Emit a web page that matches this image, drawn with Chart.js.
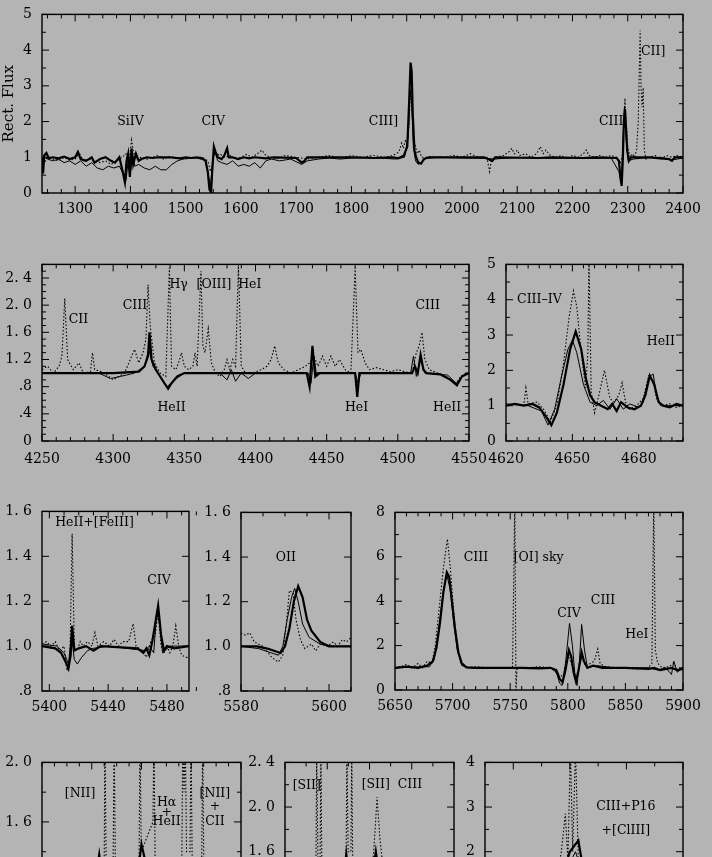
<!DOCTYPE html>
<html lang="en">
<head>
<meta charset="UTF-8">
<title>Rectified spectra</title>
<script src="https://cdn.jsdelivr.net/npm/chart.js"></script>
<style>
  html, body { margin: 0; padding: 0; background: #b4b4b4; }
  body { width: 712px; height: 857px; position: relative; overflow: hidden; }
  canvas { position: absolute; }
</style>
</head>
<body>
<canvas id="uv"></canvas>
<canvas id="blue"></canvas>
<canvas id="ciii"></canvas>
<canvas id="heii"></canvas>
<canvas id="oii"></canvas>
<canvas id="civ"></canvas>
<canvas id="halpha"></canvas>
<canvas id="sii"></canvas>
<canvas id="p16"></canvas>
<script>
// ---- UV 1240-2400 ----
const uvXTicks = [1300, 1400, 1500, 1600, 1700, 1800, 1900, 2000, 2100, 2200, 2300, 2400];
const uvYTicks = [0, 1, 2, 3, 4, 5];
const uvThick = [[1240,1.0],[1242,0.55],[1244,1.05],[1248,1.12],[1252,0.98],[1260,1.0],[1270,0.97],[1280,1.02],[1290,0.95],[1300,1.0],[1305,1.15],[1310,0.95],[1320,0.9],[1330,1.0],[1335,0.85],[1345,0.95],[1355,1.0],[1365,0.9],[1372,0.85],[1380,1.0],[1386,0.6],[1390,0.3],[1393,0.9],[1396,1.1],[1399,0.45],[1402,1.25],[1405,0.8],[1410,1.1],[1415,0.9],[1420,0.95],[1430,1.0],[1440,0.98],[1450,1.0],[1470,1.0],[1490,0.97],[1500,1.0],[1510,0.98],[1520,1.0],[1530,0.97],[1536,0.9],[1540,0.6],[1543,0.1],[1546,0.02],[1548,0.6],[1551,1.3],[1554,1.15],[1558,1.0],[1565,0.95],[1570,1.05],[1575,1.25],[1578,1.0],[1585,1.0],[1595,0.95],[1605,1.0],[1615,0.97],[1625,1.0],[1645,0.97],[1660,1.0],[1700,0.98],[1710,0.85],[1715,0.9],[1720,1.0],[1760,1.0],[1800,1.0],[1840,0.98],[1875,1.0],[1885,0.97],[1895,1.05],[1901,1.3],[1904,2.4],[1907,3.65],[1909,3.4],[1911,2.2],[1914,1.2],[1917,1.0],[1921,0.85],[1926,0.82],[1931,0.95],[1940,1.0],[2000,1.0],[2040,1.0],[2055,0.9],[2060,1.0],[2140,0.98],[2160,1.0],[2220,0.98],[2240,1.0],[2280,0.98],[2284,0.9],[2287,0.4],[2289,0.2],[2291,0.9],[2293,2.0],[2295,2.35],[2297,1.8],[2299,1.2],[2302,0.9],[2306,1.0],[2340,1.0],[2375,0.95],[2380,0.9],[2385,1.0],[2400,1.0]];
const uvThin = [[1240,0.9],[1244,1.0],[1250,0.95],[1260,0.9],[1270,0.95],[1280,0.85],[1290,0.9],[1300,0.8],[1310,0.9],[1320,0.75],[1330,0.85],[1340,0.7],[1350,0.65],[1360,0.75],[1370,0.7],[1380,0.75],[1388,0.5],[1392,0.35],[1396,0.9],[1400,0.55],[1404,1.1],[1408,0.75],[1415,0.8],[1425,0.7],[1435,0.65],[1445,0.75],[1455,0.65],[1465,0.65],[1475,0.8],[1485,0.9],[1495,0.95],[1505,0.97],[1520,0.98],[1535,0.92],[1541,0.5],[1545,0.2],[1549,0.9],[1553,1.15],[1558,0.9],[1565,0.85],[1575,0.8],[1585,0.9],[1595,0.75],[1605,0.8],[1615,0.75],[1625,0.85],[1635,0.7],[1645,0.9],[1655,0.95],[1670,0.9],[1690,0.95],[1710,0.8],[1720,0.9],[1740,0.95],[1760,0.98],[1780,0.95],[1800,0.98],[1830,1.0],[1860,0.97],[1880,0.95],[1896,1.0],[1903,1.6],[1906,2.9],[1909,2.5],[1912,1.3],[1916,0.9],[1921,0.8],[1926,0.85],[1935,0.97],[1960,1.0],[2000,0.98],[2040,0.97],[2060,0.95],[2080,0.98],[2120,1.0],[2160,0.97],[2200,0.98],[2240,0.97],[2270,0.98],[2284,0.6],[2288,0.3],[2291,1.2],[2294,2.4],[2297,1.5],[2301,0.9],[2310,0.95],[2330,0.98],[2360,1.0],[2378,0.92],[2400,0.98]];
const uvDot = [[1240,1.0],[1245,0.85],[1250,1.0],[1260,0.95],[1270,0.9],[1280,1.0],[1290,0.92],[1300,0.95],[1308,1.1],[1315,0.9],[1325,0.95],[1335,0.9],[1345,0.85],[1355,0.9],[1365,0.8],[1375,0.9],[1385,1.0],[1392,1.1],[1397,0.7],[1402,1.48],[1405,1.2],[1410,0.95],[1420,1.0],[1430,0.95],[1440,1.0],[1450,1.05],[1460,0.95],[1470,1.02],[1480,1.0],[1490,0.98],[1500,0.95],[1510,1.0],[1520,0.98],[1530,1.0],[1540,0.9],[1545,0.6],[1548,0.8],[1552,1.2],[1556,1.05],[1562,1.1],[1570,1.0],[1580,1.05],[1590,0.95],[1600,1.0],[1610,1.08],[1620,1.0],[1630,1.1],[1638,1.2],[1645,1.05],[1655,1.0],[1665,0.95],[1680,1.05],[1700,1.0],[1720,0.95],[1740,1.0],[1760,1.05],[1780,0.98],[1800,1.05],[1820,1.0],[1840,1.05],[1860,1.0],[1875,1.05],[1886,1.15],[1891,1.4],[1894,1.25],[1898,1.5],[1901,1.3],[1904,1.9],[1907,2.85],[1909,2.6],[1912,1.5],[1916,1.3],[1919,1.1],[1923,1.2],[1927,1.0],[1935,1.0],[1950,1.02],[1970,1.0],[1985,1.05],[2000,1.0],[2015,1.1],[2030,1.0],[2045,1.0],[2050,0.6],[2053,0.9],[2060,1.0],[2075,1.05],[2085,1.15],[2090,1.25],[2095,1.1],[2100,1.2],[2105,1.05],[2115,1.1],[2125,1.0],[2135,1.1],[2142,1.3],[2147,1.1],[2152,1.2],[2160,1.05],[2170,1.0],[2180,1.05],[2190,0.95],[2200,1.05],[2210,1.0],[2220,1.1],[2225,1.2],[2230,1.05],[2240,1.0],[2250,1.05],[2260,1.0],[2270,1.05],[2280,1.0],[2286,0.8],[2290,1.0],[2293,2.0],[2295,2.65],[2297,2.0],[2300,1.3],[2304,1.0],[2308,1.1],[2312,1.0],[2316,1.2],[2319,2.0],[2321,3.5],[2322.5,4.55],[2324,3.0],[2326,2.4],[2328,2.95],[2330,1.2],[2333,0.95],[2338,1.0],[2350,1.05],[2360,0.95],[2370,1.05],[2380,1.0],[2390,1.05],[2400,1.0]];

// ---- 4250-4550 ----
const blueXTicks = [4250, 4300, 4350, 4400, 4450, 4500, 4550];
const blueYTicks = [0, 0.4, 0.8, 1.2, 1.6, 2.0, 2.4];
const blueYLabels = ['0', '.4', '.8', '1. 2', '1. 6', '2. 0', '2. 4'];
const blueThick = [[4250,1.0],[4300,1.0],[4318,1.02],[4322,1.1],[4324.5,1.25],[4325.5,1.6],[4327,1.2],[4330,1.05],[4333,0.95],[4336,0.85],[4338.6,0.77],[4341,0.85],[4345,0.95],[4350,1.0],[4436,1.0],[4438,0.8],[4440,1.4],[4442,0.95],[4444,1.0],[4470,1.0],[4471.5,0.65],[4473,1.0],[4510,1.0],[4512,1.1],[4514,1.0],[4516,1.27],[4518,1.05],[4520,1.0],[4530,0.98],[4537,0.9],[4541.5,0.82],[4545,0.95],[4550,1.0]];
const blueThin = [[4250,1.0],[4290,1.0],[4298,0.92],[4305,0.95],[4315,1.0],[4322,1.1],[4325,1.35],[4328,1.1],[4333,0.95],[4338,0.8],[4343,0.9],[4350,1.0],[4375,1.0],[4380,0.9],[4383,1.05],[4386,0.88],[4390,1.0],[4395,0.92],[4400,1.0],[4437,1.0],[4439,0.85],[4441,1.25],[4443,0.95],[4446,1.0],[4470,1.0],[4472,0.85],[4474,1.0],[4509,1.0],[4511,1.25],[4513,0.95],[4516,1.2],[4519,1.0],[4535,0.97],[4541,0.85],[4546,0.97],[4550,1.0]];
const blueDot = [[4250,1.05],[4254,1.1],[4258,1.0],[4262,1.1],[4264,1.25],[4266,2.1],[4268,1.2],[4272,1.05],[4276,1.15],[4279,1.0],[4284,1.02],[4285.5,1.3],[4287,1.05],[4292,1.02],[4297,0.95],[4300,0.9],[4304,0.95],[4308,1.0],[4312,1.2],[4315,1.35],[4318,1.15],[4321,1.3],[4323,1.5],[4324.5,2.3],[4326,1.7],[4329,1.15],[4333,1.0],[4337,0.95],[4339.5,2.55],[4341,1.1],[4344,1.05],[4346,1.15],[4348,1.3],[4350,1.1],[4353,1.05],[4356,1.1],[4357.5,1.3],[4359,1.1],[4361.7,2.5],[4363,1.4],[4364.5,1.3],[4366.8,1.65],[4369,1.15],[4372,1.0],[4375,0.95],[4378,1.05],[4380,1.2],[4382,1.05],[4384,1.2],[4386,1.1],[4388,2.6],[4390,1.1],[4393,1.0],[4398,1.0],[4404,1.05],[4408,1.1],[4411,1.2],[4413.5,1.4],[4416,1.15],[4420,1.05],[4425,1.0],[4430,1.05],[4435,1.1],[4438,1.15],[4441,1.25],[4444,1.1],[4447,1.25],[4450,1.1],[4453,1.25],[4456,1.1],[4459,1.2],[4463,1.05],[4467,1.0],[4470,2.55],[4472,1.3],[4474,1.35],[4477,1.15],[4480,1.05],[4485,1.08],[4490,1.05],[4495,1.02],[4500,1.05],[4505,1.02],[4510,1.0],[4513,1.3],[4515,1.4],[4517,1.6],[4519,1.2],[4522,1.05],[4528,1.0],[4534,0.95],[4538,0.9],[4541,0.85],[4544,0.95],[4548,1.0],[4550,1.0]];

// ---- 4620-4700 ----
const ciiiXTicks = [4620, 4650, 4680];
const ciiiYTicks = [0, 1, 2, 3, 4, 5];
const ciiiThick = [[4620,1.0],[4624,1.05],[4628,1.0],[4632,1.05],[4635,0.95],[4638,0.7],[4640.5,0.45],[4643,0.8],[4646,1.6],[4649,2.6],[4651.5,3.1],[4654,2.6],[4656,1.8],[4658,1.3],[4660,1.1],[4663,1.0],[4666,0.9],[4668,1.05],[4670,0.85],[4672,1.1],[4675,0.95],[4678,0.9],[4681,1.0],[4683,1.3],[4685,1.85],[4687,1.6],[4689,1.1],[4691,1.0],[4694,0.95],[4697,1.05],[4700,1.0]];
const ciiiThin = [[4620,1.05],[4630,1.0],[4636,0.85],[4639,0.45],[4642,0.9],[4645,1.8],[4648,2.6],[4650,2.85],[4652,2.5],[4655,1.6],[4658,1.1],[4661,1.0],[4664,1.15],[4667,0.9],[4670,1.2],[4673,0.9],[4676,1.05],[4680,0.95],[4682,1.1],[4684.5,1.8],[4686.5,1.9],[4688,1.3],[4690,1.0],[4700,1.0]];
const ciiiDot = [[4620,1.0],[4625,1.05],[4628,1.0],[4629,1.5],[4630,1.05],[4634,1.1],[4637,0.9],[4640,0.55],[4643,1.0],[4646,2.2],[4648.5,3.5],[4650.5,4.25],[4652,3.8],[4654,2.5],[4656,1.5],[4657,2.5],[4657.5,5.2],[4658.5,1.4],[4660,0.8],[4662,1.3],[4664.5,2.0],[4667,1.2],[4669,1.1],[4671,1.3],[4672.5,1.65],[4674,1.1],[4676,0.9],[4679,1.0],[4682,1.2],[4684.5,1.85],[4686.5,1.7],[4688,1.2],[4690,1.0],[4694,1.05],[4697,0.95],[4700,1.0]];

// ---- 5395-5495 ----
const heiiXTicks = [5400, 5440, 5480];
const narrowYTicks = [0.8, 1.0, 1.2, 1.4, 1.6];
const narrowYLabels = ['.8', '1. 0', '1. 2', '1. 4', '1. 6'];
const heiiThick = [[5395,1.0],[5404,0.99],[5408,0.97],[5411,0.93],[5413,0.9],[5414.5,0.96],[5415.5,1.09],[5417,0.98],[5420,0.99],[5425,1.0],[5430,0.98],[5435,1.0],[5460,0.99],[5464,0.97],[5466,0.99],[5468,0.96],[5470,1.02],[5472,1.1],[5474,1.18],[5476,1.05],[5478,0.98],[5480,1.0],[5485,0.99],[5495,1.0]];
const heiiThin = [[5395,1.01],[5405,1.0],[5410,0.97],[5413,0.92],[5415,1.05],[5417,0.94],[5419,0.92],[5422,0.95],[5426,0.98],[5430,0.99],[5440,1.0],[5465,0.98],[5468,1.0],[5471,0.97],[5473,1.15],[5475,1.1],[5477,0.97],[5482,1.0],[5495,1.0]];
const heiiDot = [[5395,1.01],[5398,1.02],[5401,1.0],[5404,1.02],[5407,0.98],[5410,1.0],[5412,0.89],[5414,0.95],[5415.5,1.5],[5417,1.0],[5419,0.98],[5421,1.02],[5423,1.0],[5426,1.02],[5429,1.0],[5431,1.06],[5433,1.0],[5437,1.02],[5441,1.0],[5444,1.03],[5447,1.0],[5450,1.02],[5454,1.02],[5457,1.1],[5459,1.0],[5463,0.98],[5466,0.95],[5469,1.02],[5472,1.05],[5474,1.15],[5476,1.0],[5478,0.97],[5480,1.0],[5482,0.97],[5484,1.0],[5486,1.09],[5488,1.0],[5490,0.96],[5493,0.95],[5495,0.95]];

// ---- 5580-5605 ----
const oiiXTicks = [5580, 5600];
const oiiThick = [[5580,1.0],[5583.6,1.0],[5586,0.99],[5589,0.97],[5590,1.0],[5591,1.08],[5592,1.2],[5593,1.27],[5594,1.22],[5595,1.12],[5596,1.07],[5598,1.02],[5600,1.0],[5605,1.0]];
const oiiThin = [[5580,1.0],[5584,0.99],[5588.5,0.96],[5589.5,1.0],[5590.5,1.12],[5591.5,1.22],[5592.2,1.26],[5593,1.2],[5594,1.1],[5595.5,1.04],[5598,1.01],[5601,1.0],[5605,1.0]];
const oiiDot = [[5580,1.06],[5581,1.05],[5582,1.06],[5583,1.02],[5585,1.0],[5587,0.95],[5588.5,0.93],[5589.5,0.96],[5590.3,1.1],[5591,1.25],[5591.8,1.24],[5592.5,1.12],[5593.5,1.03],[5594.5,0.99],[5596,1.01],[5597,0.98],[5598,1.01],[5599.5,1.0],[5601,1.02],[5602,1.0],[5603,1.03],[5604,1.02],[5605,1.04]];

// ---- 5650-5900 ----
const civXTicks = [5650, 5700, 5750, 5800, 5850, 5900];
const civYTicks = [0, 2, 4, 6, 8];
const civThick = [[5650,1.0],[5660,1.05],[5670,1.0],[5678,1.1],[5683,1.3],[5686,1.9],[5689,3.0],[5692,4.4],[5695,5.3],[5697,5.1],[5699,4.2],[5702,2.8],[5705,1.7],[5708,1.2],[5712,1.02],[5720,1.0],[5760,1.0],[5775,0.97],[5785,1.0],[5790,0.9],[5793,0.5],[5795.5,0.35],[5798,0.9],[5801,1.8],[5803,1.5],[5805,0.8],[5807,0.4],[5809,0.8],[5812,1.7],[5814,1.3],[5817,1.0],[5822,1.1],[5830,1.0],[5850,1.0],[5870,0.95],[5875,1.0],[5880,0.9],[5890,1.0],[5895,0.9],[5900,0.95]];
const civThin = [[5650,1.0],[5680,1.05],[5684,1.4],[5688,2.8],[5692,4.5],[5695,5.2],[5698,4.5],[5701,3.0],[5704,1.8],[5708,1.1],[5715,1.0],[5785,1.0],[5790,0.8],[5793,0.3],[5795,0.2],[5798,1.2],[5801.5,3.0],[5804,2.0],[5806,0.8],[5808,0.2],[5810,1.2],[5812,2.95],[5814.5,1.8],[5817,1.0],[5825,1.1],[5840,1.0],[5870,1.0],[5878,0.9],[5885,1.0],[5890,0.7],[5892,1.3],[5895,0.8],[5900,1.0]];
const civDot = [[5650,1.0],[5655,1.05],[5660,1.15],[5665,1.0],[5670,1.2],[5674,1.0],[5678,1.3],[5682,1.2],[5685,2.0],[5688,3.5],[5692,5.5],[5695.5,6.8],[5698,5.5],[5701,3.5],[5704,2.0],[5707,1.2],[5712,1.0],[5720,1.05],[5730,1.0],[5752,1.0],[5754,8.5],[5755,0.0],[5756,1.0],[5765,1.0],[5775,1.05],[5785,1.0],[5792,0.7],[5796,0.6],[5800,1.6],[5803,1.2],[5806,0.7],[5809,0.8],[5812,1.5],[5815,1.1],[5820,1.2],[5823,1.3],[5826,1.85],[5828,1.2],[5832,1.05],[5845,1.0],[5860,0.95],[5870,1.0],[5873,1.2],[5874.6,8.5],[5876,1.8],[5878,1.2],[5882,1.0],[5888,1.05],[5892,1.2],[5895,0.9],[5900,1.0]];

// ---- 6520-6600 ----
const haXTicks = [6540, 6560, 6580, 6600];
const haYTicks = [1.2, 1.6, 2.0];
const haYLabels = ['1. 2', '1. 6', '2. 0'];
const haThick = [[6520,1.0],[6535,1.0],[6540,1.05],[6543,1.38],[6545,1.1],[6550,1.0],[6555,1.05],[6558,1.2],[6560,1.45],[6562,1.3],[6565,1.2],[6570,1.05],[6578,1.1],[6583,1.15],[6588,1.0],[6600,1.0]];
const haThin = [[6520,1.0],[6540,1.0],[6543,1.25],[6546,1.0],[6558,1.1],[6560,1.35],[6563,1.15],[6570,1.05],[6580,1.1],[6590,1.0],[6600,1.0]];
const haDot = [[6520,1.0],[6530,1.05],[6540,1.1],[6545,1.3],[6545.3,2.2],[6545.8,1.3],[6548.6,1.35],[6549,2.2],[6549.5,1.3],[6555,1.1],[6559,1.3],[6559.4,2.2],[6559.9,1.4],[6564.6,1.6],[6565,2.2],[6565.5,1.3],[6570,1.2],[6576.2,1.3],[6576.6,2.2],[6577.1,1.8],[6577.6,2.2],[6578.1,1.4],[6579.5,1.4],[6579.9,2.2],[6580.4,1.3],[6584.2,1.3],[6584.6,2.2],[6585.1,1.2],[6592,1.05],[6600,1.0]];

// ---- 6700-6780 ----
const siiXTicks = [6700, 6720, 6740, 6760, 6780];
const siiYTicks = [1.2, 1.6, 2.0, 2.4];
const siiYLabels = ['1. 2', '1. 6', '2. 0', '2. 4'];
const siiThick = [[6700,1.0],[6714,1.05],[6717,1.3],[6720,1.05],[6727,1.2],[6729,1.58],[6731,1.25],[6735,1.05],[6740,1.2],[6743,1.6],[6746,1.2],[6750,1.0],[6780,1.0]];
const siiThin = [[6700,1.0],[6715,1.05],[6717,1.2],[6720,1.0],[6729,1.45],[6732,1.05],[6743,1.5],[6747,1.05],[6780,1.0]];
const siiDot = [[6700,1.0],[6710,1.05],[6714.6,1.3],[6715,2.5],[6715.6,1.5],[6716.6,1.5],[6717,2.5],[6717.5,1.3],[6725,1.1],[6728.9,1.4],[6729.3,2.5],[6729.9,1.6],[6731.2,1.6],[6731.6,2.5],[6732.2,1.2],[6740,1.2],[6742,1.6],[6743.6,2.09],[6745,1.7],[6748,1.2],[6755,1.05],[6780,1.0]];

// ---- 8470-8540 ----
const p16XTicks = [8480, 8500, 8520, 8540];
const p16YTicks = [0, 1, 2, 3, 4];
const p16Thick = [[8470,1.0],[8495,1.1],[8498,1.6],[8500,2.0],[8503,2.25],[8505,1.5],[8510,1.05],[8540,1.0]];
const p16Thin = [[8470,1.0],[8498,1.5],[8502,2.0],[8506,1.2],[8540,1.0]];
const p16Dot = [[8470,1.0],[8490,1.05],[8495,1.3],[8497,2.0],[8498.4,2.85],[8499.3,1.8],[8500.2,4.3],[8501,2.0],[8502,4.3],[8503,1.8],[8505,1.2],[8510,1.05],[8540,1.0]];

const SERIF = 'DejaVu Serif';
// room round each plot box; the right one must hold half of the last x label + its padding
const PAD_L = 44, PAD_R = 34, PAD_T = 12, PAD_B = 26;

const panels = [
  { id: 'uv', box: [42, 8, 683, 193], x: [1240, 2400], y: [0, 5], xFrom: 1250, xStep: 25, yStep: 0.5,
    xTicks: uvXTicks, yTicks: uvYTicks, series: [uvDot, uvThin, uvThick], title: 'Rect. Flux',
    notes: [['SiIV', 1400, 2.0], ['CIV', 1550, 2.0], ['CIII]', 1858, 2.0], ['CIII', 2270, 2.0], ['CII]', 2346, 3.95]] },
  { id: 'blue', box: [42, 258, 469, 441], x: [4250, 4550], y: [0, 2.6], xFrom: 4250, xStep: 10, yStep: 0.1, xPad: 10,
    xTicks: blueXTicks, yTicks: blueYTicks, yLabels: blueYLabels, series: [blueDot, blueThin, blueThick],
    notes: [['CII', 4275.6, 1.79], ['CIII', 4315.3, 1.99], ['Hγ', 4346, 2.3], ['[OIII]', 4370.8, 2.3], ['HeI', 4396, 2.3],
            ['HeII', 4341, 0.49], ['HeI', 4471, 0.49], ['CIII', 4521, 1.99], ['HeII', 4534.6, 0.49]] },
  { id: 'ciii', box: [506, 258, 683, 441], x: [4620, 4700], y: [0, 5], xFrom: 4620, xStep: 5, yStep: 0.5, xPad: 10,
    xTicks: ciiiXTicks, yTicks: ciiiYTicks, series: [ciiiDot, ciiiThin, ciiiThick],
    notes: [['CIII–IV', 4635.1, 3.99], ['HeII', 4690, 2.8]] },
  { id: 'heii', box: [42, 505, 189, 691], x: [5395, 5495], y: [0.8, 1.6], xFrom: 5400, xStep: 10, yStep: 0.2,
    xTicks: heiiXTicks, yTicks: narrowYTicks, yLabels: narrowYLabels, series: [heiiDot, heiiThin, heiiThick],
    notes: [['HeII+[FeIII]', 5430.7, 1.548], ['CIV', 5474.6, 1.29]] },
  { id: 'oii', box: [241, 506, 351, 691], x: [5580, 5605], y: [0.8, 1.6], xFrom: 5580, xStep: 5, yStep: 0.2,
    xTicks: oiiXTicks, yTicks: narrowYTicks, yLabels: narrowYLabels, series: [oiiDot, oiiThin, oiiThick],
    notes: [['OII', 5590.2, 1.398]] },
  { id: 'civ', box: [395, 506, 683, 690], x: [5650, 5900], y: [0, 8], xFrom: 5650, xStep: 10, yStep: 1,
    xTicks: civXTicks, yTicks: civYTicks, series: [civDot, civThin, civThick],
    notes: [['CIII', 5720.3, 5.96], ['[OI] sky', 5753, 5.96, 'left'], ['CIV', 5801, 3.45], ['CIII', 5830.6, 4.0], ['HeI', 5860, 2.48]] },
  { id: 'halpha', box: [42, 756, 241, 941], x: [6520, 6600], y: [0.8, 2.0], xFrom: 6520, xStep: 5, yStep: 0.2,
    xTicks: haXTicks, yTicks: haYTicks, yLabels: haYLabels, series: [haDot, haThin, haThick],
    notes: [['[NII]', 6535.3, 1.79], ['Hα', 6570.1, 1.73], ['+', 6570.1, 1.66], ['HeII', 6570.1, 1.6],
            ['[NII]', 6589.5, 1.79], ['+', 6589.5, 1.7], ['CII', 6589.5, 1.6]] },
  { id: 'sii', box: [285, 756, 454, 941], x: [6700, 6780], y: [0.8, 2.4], xFrom: 6700, xStep: 10, yStep: 0.2,
    xTicks: siiXTicks, yTicks: siiYTicks, yLabels: siiYLabels, series: [siiDot, siiThin, siiThick],
    notes: [['[SII]', 6710.3, 2.19], ['[SII]  CIII', 6750.6, 2.2]] },
  { id: 'p16', box: [485, 756, 683, 941], x: [8470, 8540], y: [0, 4], xFrom: 8470, xStep: 10, yStep: 0.5,
    xTicks: p16XTicks, yTicks: p16YTicks, series: [p16Dot, p16Thin, p16Thick],
    notes: [['CIII+P16', 8519.8, 3.01], ['+[ClIII]', 8519.8, 2.47]] }
];

const lineStyles = [
  { borderWidth: 1.1, borderDash: [1.5, 2] },
  { borderWidth: 1, borderDash: [] },
  { borderWidth: 2.2, borderDash: [] }
];

// inward ticks on all sides, frame and line identifications
const framePlugin = {
  id: 'frame',
  afterDatasetsDraw(chart, args, o) {
    const { ctx, chartArea: a } = chart;
    const sx = chart.scales.x, sy = chart.scales.y;
    const near = (list, v) => list.some(t => Math.abs(t - v) < 1e-6);
    ctx.save();
    ctx.strokeStyle = '#000';
    ctx.lineWidth = 1;
    ctx.beginPath();
    let n = Math.round((sx.max - o.xFrom) / o.xStep);
    for (let i = 0; i <= n; i++) {
      const v = o.xFrom + i * o.xStep;
      const px = sx.getPixelForValue(v), len = near(o.xTicks, v) ? 7 : 4;
      ctx.moveTo(px, a.bottom); ctx.lineTo(px, a.bottom - len);
      ctx.moveTo(px, a.top); ctx.lineTo(px, a.top + len);
    }
    n = Math.round((sy.max - sy.min) / o.yStep);
    for (let i = 0; i <= n; i++) {
      const v = sy.min + i * o.yStep;
      const py = sy.getPixelForValue(v), len = near(o.yTicks, v) ? 7 : 4;
      ctx.moveTo(a.left, py); ctx.lineTo(a.left + len, py);
      ctx.moveTo(a.right, py); ctx.lineTo(a.right - len, py);
    }
    ctx.stroke();
    ctx.lineWidth = 1.4;
    ctx.strokeRect(a.left, a.top, a.right - a.left, a.bottom - a.top);

    ctx.fillStyle = '#000';
    ctx.font = '12.5px "' + SERIF + '"';
    ctx.textBaseline = 'middle';
    for (const [t, lx, ly, al] of o.notes) {
      ctx.textAlign = al || 'center';
      ctx.fillText(t, sx.getPixelForValue(lx), sy.getPixelForValue(ly));
    }
    ctx.restore();
  }
};

function makePanel(p) {
  const [l, t, r, b] = p.box;
  const cv = document.getElementById(p.id);
  const w = r - l + PAD_L + PAD_R, h = b - t + PAD_T + PAD_B;
  cv.width = w; cv.height = h;
  cv.style.left = (l - PAD_L) + 'px';
  cv.style.top = (t - PAD_T) + 'px';
  cv.style.width = w + 'px';
  cv.style.height = h + 'px';

  const tickFont = { family: SERIF, size: 14 };
  const yLabel = v => p.yLabels ? p.yLabels[p.yTicks.findIndex(t => Math.abs(t - v) < 1e-6)] : String(v);

  return new Chart(cv, {
    type: 'line',
    data: {
      datasets: p.series.map((s, i) => ({
        data: s.map(([x, y]) => ({ x, y })),
        borderColor: '#000',
        borderWidth: lineStyles[i].borderWidth,
        borderDash: lineStyles[i].borderDash,
        pointRadius: 0,
        tension: 0,
        fill: false
      }))
    },
    options: {
      responsive: false,
      animation: false,
      events: [],
      layout: { padding: { left: 0, right: PAD_R, top: PAD_T, bottom: 0 } },
      plugins: {
        legend: { display: false },
        tooltip: { enabled: false },
        frame: { xFrom: p.xFrom, xStep: p.xStep, yStep: p.yStep, xTicks: p.xTicks, yTicks: p.yTicks, notes: p.notes }
      },
      scales: {
        x: {
          type: 'linear', min: p.x[0], max: p.x[1],
          afterBuildTicks: s => { s.ticks = p.xTicks.map(v => ({ value: v })); },
          afterFit: s => { s.height = PAD_B; },
          grid: { display: false, drawTicks: false },
          border: { display: false },
          ticks: { autoSkip: false, maxRotation: 0, minRotation: 0, padding: p.xPad || 8, color: '#000', font: tickFont,
                   callback: v => String(v) }
        },
        y: {
          type: 'linear', min: p.y[0], max: p.y[1],
          afterBuildTicks: s => { s.ticks = p.yTicks.map(v => ({ value: v })); },
          afterFit: s => { s.width = PAD_L; },
          grid: { display: false, drawTicks: false },
          border: { display: false },
          title: p.title ? { display: true, text: p.title, color: '#000', font: { family: SERIF, size: 15 }, padding: { top: 2, bottom: 0 } } : { display: false },
          ticks: { autoSkip: false, padding: 10, color: '#000', font: tickFont, callback: yLabel }
        }
      }
    },
    plugins: [framePlugin]
  });
}

panels.forEach(makePanel);
</script>
</body>
</html>
